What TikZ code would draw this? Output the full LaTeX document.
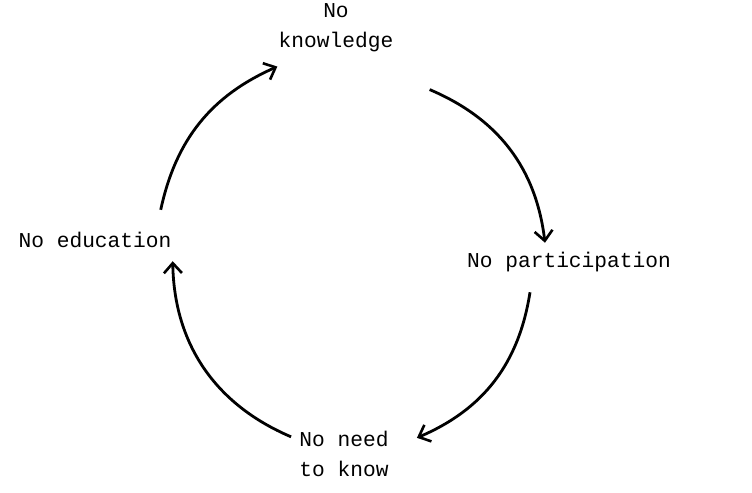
\documentclass[tikz,border=0pt]{standalone}
\usepackage{fontspec}
\setmonofont{Liberation Mono}
\usetikzlibrary{arrows.meta}
\begin{document}
\begin{tikzpicture}[x=0.5pt, y=-0.5pt,
        lbl/.style={inner sep=2pt, align=center, font=\fontsize{10.6pt}{15pt}\selectfont\ttfamily},
        cyc/.style={line width=1.4pt, -{Straight Barb[length=5pt, width=9pt, line width=1.3pt]}}]
        \useasboundingbox (0,0) rectangle (752,493);
        % the four stages
        \node[lbl] (know) at (336,28) {No\\knowledge};
        \node[lbl] (part) at (569,262) {No participation};
        \node[lbl] (need) at (344,454) {No need\\to know};
        \node[lbl] (edu) at (95,240) {No education};
        % the cycle
        \draw[cyc] ([shift={(32,33)}]know.south east) to[bend left=30] ([shift={(-24,-5)}]part.north);
        \draw[cyc] ([shift={(-39,16)}]part.south) to[bend left=29] ([shift={(24,11)}]need.north east);
        \draw[cyc] ([shift={(-4,10)}]need.north west) to[bend left=33] ([shift={(-3,9)}]edu.south east);
        \draw[cyc] ([shift={(-15,-18)}]edu.north east) to[bend left=27] ([shift={(3,10)}]know.south west);
    \end{tikzpicture}
\end{document}
